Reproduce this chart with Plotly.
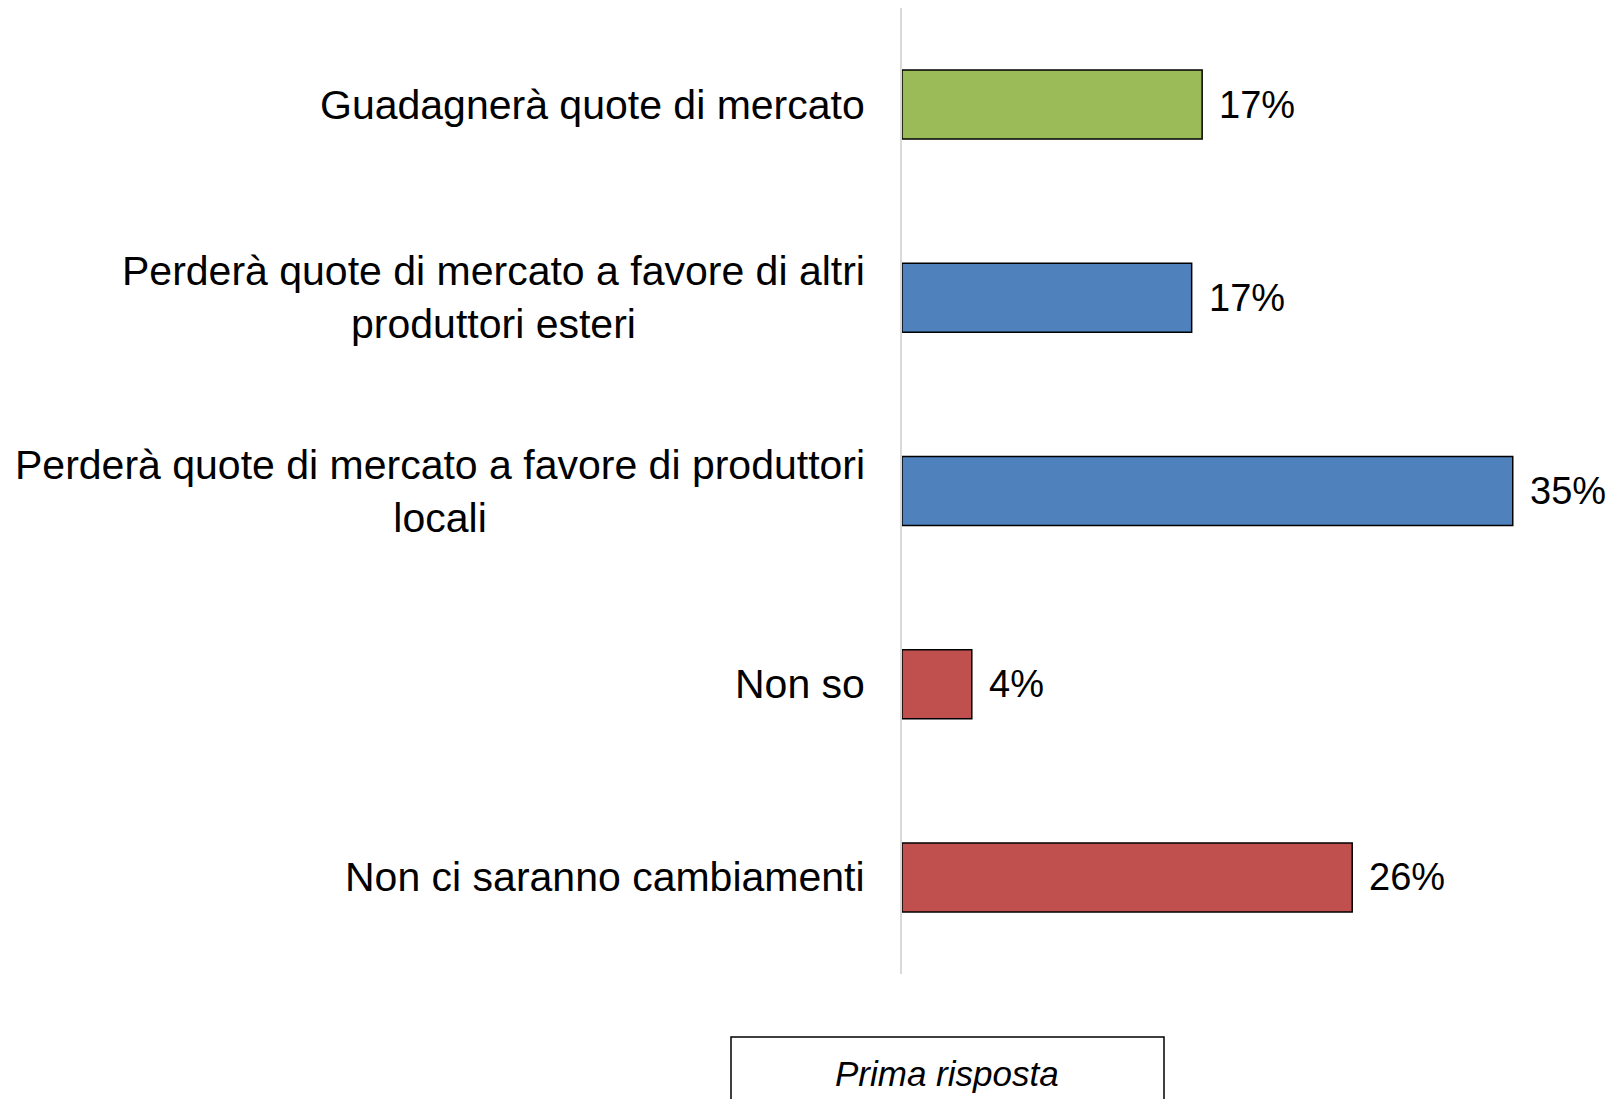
import plotly.graph_objects as go

categories = [
    "Guadagnerà quote di mercato",
    "Perderà quote di mercato a favore di altri<br>produttori esteri",
    "Perderà quote di mercato a favore di produttori<br>locali",
    "Non so",
    "Non ci saranno cambiamenti",
]
values = [17.2, 16.6, 35.0, 4.0, 25.8]
labels = ["17%", "17%", "35%", "4%", "26%"]
colors = ["#9BBB59", "#4F81BD", "#4F81BD", "#C0504D", "#C0504D"]
legend_label = "Prima risposta"

OFF = 8  # page body margin
W, H = 1617 - OFF, 1099 - OFF
ML = 902 - OFF
MT = 8 - OFF
MR = W - (1600 - OFF)
MB = H - (974 - OFF)
PW, PH = W - ML - MR, H - MT - MB


def px_x(px):
    return (px - OFF - ML) / PW


def px_y(py):
    return (H - MB - (py - OFF)) / PH


fig = go.Figure()
fig.add_trace(go.Bar(
    x=values,
    y=categories,
    orientation="h",
    width=0.357,
    marker=dict(color=colors, line=dict(color="black", width=1.5)),
    showlegend=False,
    hoverinfo="skip",
))

annotations = []
for c, v, t in zip(categories, values, labels):
    annotations.append(dict(
        x=v, y=c, xref="x", yref="y", text=t, showarrow=False,
        xanchor="left", yanchor="middle", xshift=15,
        font=dict(family="Liberation Sans, Arial, sans-serif", size=38, color="black"),
    ))
    annotations.append(dict(
        x=0, y=c, xref="x", yref="y", text=c, showarrow=False,
        xanchor="right", yanchor="middle", xshift=-35, align="center",
        font=dict(family="Liberation Sans, Arial, sans-serif", size=41, color="black"),
    ))

annotations.append(dict(
    x=px_x(947), y=px_y(1073), xref="paper", yref="paper",
    text="<i>" + legend_label + "</i>", showarrow=False,
    xanchor="center", yanchor="middle",
    font=dict(family="Liberation Sans, Arial, sans-serif", size=35, color="black"),
))

fig.update_layout(
    width=W, height=H,
    margin=dict(l=ML, r=MR, t=MT, b=MB),
    paper_bgcolor="white", plot_bgcolor="white",
    xaxis=dict(range=[0, 40], visible=False, fixedrange=True),
    yaxis=dict(
        categoryorder="array", categoryarray=categories, autorange="reversed",
        showticklabels=False, showgrid=False, zeroline=False,
        showline=True, linecolor="#d9d9d9", linewidth=2, ticks="",
    ),
    annotations=annotations,
    shapes=[dict(
        type="rect", xref="paper", yref="paper",
        x0=px_x(731), x1=px_x(1164), y0=px_y(1037), y1=px_y(1115),
        line=dict(color="black", width=1.5), fillcolor="rgba(0,0,0,0)",
    )],
)

fig.write_html("out.html")
